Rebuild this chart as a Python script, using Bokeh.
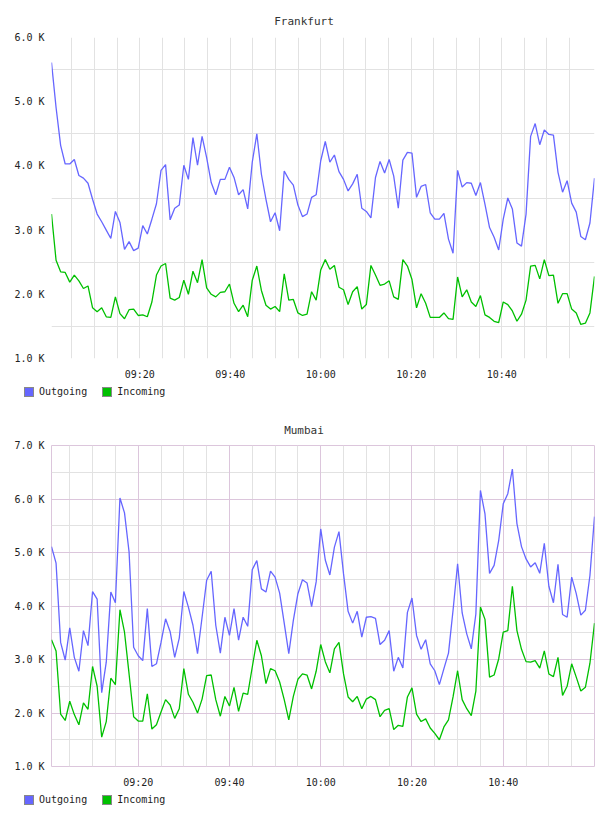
import numpy as np
import pandas as pd
from bokeh.plotting import figure
from bokeh.models import Range1d, FixedTicker, Grid, DatetimeTickFormatter, Div
from bokeh.layouts import column
from bokeh.embed import file_html
from bokeh.resources import INLINE

# ---------------- data (values in thousands) ----------------
fra_out = [5.61, 4.91, 4.32, 4.03, 4.03, 4.10, 3.85, 3.81, 3.73, 3.48, 3.25, 3.13, 3.00, 2.87, 3.29, 3.12, 2.70, 2.82, 2.68, 2.72,
           3.07, 2.94, 3.17, 3.41, 3.93, 4.02, 3.16, 3.34, 3.39, 4.01, 3.79, 4.44, 4.01, 4.46, 4.13, 3.74, 3.55, 3.79, 3.79, 3.98,
           3.82, 3.55, 3.63, 3.33, 4.06, 4.50, 3.87, 3.48, 3.13, 3.27, 2.99, 3.92, 3.79, 3.70, 3.39, 3.21, 3.25, 3.51, 3.55, 4.08,
           4.38, 4.06, 4.17, 3.91, 3.79, 3.61, 3.72, 3.87, 3.34, 3.29, 3.19, 3.82, 4.07, 3.89, 4.10, 3.84, 3.34, 4.09, 4.21, 4.20,
           3.51, 3.68, 3.71, 3.27, 3.17, 3.17, 3.26, 2.86, 2.64, 3.93, 3.67, 3.74, 3.73, 3.54, 3.74, 3.40, 3.04, 2.89, 2.69, 3.17,
           3.50, 3.33, 2.80, 2.75, 3.25, 4.46, 4.66, 4.33, 4.56, 4.49, 4.48, 3.90, 3.59, 3.77, 3.42, 3.28, 2.90, 2.85, 3.11, 3.81]
fra_in = [3.25, 2.53, 2.35, 2.34, 2.19, 2.30, 2.21, 2.09, 2.13, 1.79, 1.73, 1.79, 1.65, 1.64, 1.96, 1.70, 1.62, 1.76, 1.77, 1.67,
          1.68, 1.65, 1.88, 2.30, 2.44, 2.48, 1.94, 1.91, 1.95, 2.22, 2.00, 2.36, 2.18, 2.54, 2.10, 2.00, 1.96, 2.03, 2.04, 2.16,
          1.86, 1.73, 1.83, 1.65, 2.22, 2.44, 2.06, 1.83, 1.77, 1.81, 1.73, 2.32, 1.91, 1.92, 1.71, 1.67, 1.69, 2.04, 1.91, 2.38,
          2.54, 2.39, 2.45, 2.11, 2.07, 1.84, 2.04, 2.12, 1.77, 1.84, 2.45, 2.30, 2.14, 2.16, 2.21, 1.96, 1.92, 2.54, 2.44, 2.23,
          1.79, 2.01, 1.86, 1.64, 1.64, 1.64, 1.71, 1.62, 1.61, 2.27, 1.96, 2.07, 1.88, 1.81, 1.98, 1.68, 1.64, 1.58, 1.56, 1.88,
          1.84, 1.74, 1.58, 1.69, 1.91, 2.44, 2.45, 2.24, 2.54, 2.29, 2.30, 1.86, 2.01, 2.01, 1.77, 1.71, 1.53, 1.55, 1.71, 2.28]
mum_out = [5.11, 4.80, 3.32, 2.99, 3.59, 3.04, 2.78, 3.54, 3.26, 4.27, 4.13, 2.38, 2.95, 4.26, 4.06, 6.02, 5.74, 5.01, 3.23, 3.07,
           2.98, 3.95, 2.87, 2.92, 3.32, 3.76, 3.52, 3.04, 3.40, 4.27, 3.98, 3.64, 3.11, 3.79, 4.48, 4.65, 3.64, 3.12, 3.79, 3.45,
           3.95, 3.36, 3.79, 3.62, 4.68, 4.85, 4.32, 4.26, 4.65, 4.54, 4.24, 3.68, 3.11, 3.73, 4.23, 4.49, 4.43, 3.99, 4.45, 5.44,
           4.86, 4.58, 5.10, 5.39, 4.60, 3.90, 3.68, 3.90, 3.42, 3.79, 3.80, 3.77, 3.28, 3.36, 3.54, 2.78, 3.04, 2.84, 3.88, 4.15,
           3.45, 3.19, 3.37, 2.92, 2.79, 2.53, 2.83, 3.12, 3.92, 4.79, 3.87, 3.48, 3.20, 3.85, 6.16, 5.72, 4.61, 4.76, 5.22, 5.91,
           6.10, 6.56, 5.54, 5.11, 4.88, 4.73, 4.81, 4.61, 5.17, 4.37, 4.06, 4.78, 3.84, 3.79, 4.54, 4.23, 3.83, 3.92, 4.57, 5.67]
mum_in = [3.37, 3.16, 1.98, 1.86, 2.22, 1.97, 1.78, 2.19, 2.07, 2.87, 2.50, 1.55, 1.84, 2.65, 2.53, 3.93, 3.51, 2.73, 1.93, 1.85,
          1.85, 2.36, 1.70, 1.78, 2.02, 2.25, 2.15, 1.90, 2.08, 2.83, 2.35, 2.20, 2.00, 2.26, 2.70, 2.71, 2.25, 1.94, 2.31, 2.13,
          2.48, 2.03, 2.37, 2.35, 2.86, 3.36, 3.07, 2.55, 2.83, 2.79, 2.58, 2.25, 1.87, 2.31, 2.63, 2.73, 2.71, 2.45, 2.78, 3.28,
          2.96, 2.75, 3.20, 3.32, 2.73, 2.30, 2.21, 2.31, 2.08, 2.26, 2.31, 2.25, 1.93, 2.05, 2.08, 1.69, 1.77, 1.75, 2.30, 2.47,
          1.98, 1.84, 1.89, 1.72, 1.62, 1.50, 1.74, 1.87, 2.30, 2.79, 2.25, 2.08, 1.95, 2.41, 3.98, 3.75, 2.67, 2.71, 3.01, 3.51,
          3.54, 4.37, 3.54, 3.19, 2.96, 2.95, 2.98, 2.84, 3.16, 2.73, 2.68, 3.04, 2.33, 2.50, 2.92, 2.67, 2.41, 2.48, 2.93, 3.68]

fra_times = pd.date_range("2024-01-01 09:00:30", "2024-01-01 11:00:30", periods=len(fra_out))
mum_times = pd.date_range("2024-01-01 09:01:00", periods=len(mum_out), freq="1min")

titles = ["Frankfurt", "Mumbai"]
x_tick_times = ["09:20", "09:40", "10:00", "10:20", "10:40"]
fra_y_ticks = [1000, 2000, 3000, 4000, 5000, 6000]
fra_y_labels = ["1.0 K", "2.0 K", "3.0 K", "4.0 K", "5.0 K", "6.0 K"]
mum_y_ticks = [1000, 2000, 3000, 4000, 5000, 6000, 7000]
mum_y_labels = ["1.0 K", "2.0 K", "3.0 K", "4.0 K", "5.0 K", "6.0 K", "7.0 K"]
series_names = ["Outgoing", "Incoming"]

FONT = "DejaVu Sans Mono"
BLUE = "#6666ff"
GREEN = "#00c000"
GRAY = "#e2e2e2"
PINK = "#dcc6dc"
series_colors = [BLUE, GREEN]


def ms(hm):
    return float(pd.Timestamp("2024-01-01 " + hm).value // 10**6)


five_min = [f"{h:02d}:{m:02d}" for h in (9, 10) for m in range(0, 60, 5)]
five_min = [t for t in five_min if "09:00" < t < "11:00"]


def title_div(text, pad):
    html = (f'<div style="width:608px;padding-top:{pad}px;text-align:center;'
            f'font-family:\'{FONT}\';font-size:11px;line-height:12px;color:#333333;">{text}</div>')
    return Div(text=html, width=608, height=30, margin=0)


def legend_div():
    parts = []
    for i, (name, col) in enumerate(zip(series_names, series_colors)):
        ml = 24 if i == 0 else 15
        parts.append(f'<span style="display:inline-block;width:10px;height:10px;background:{col};'
                     f'border:1px solid #888888;margin-left:{ml}px;"></span>'
                     f'<span style="display:inline-block;margin-left:5px;line-height:10px;">{name}</span>')
    html = (f'<div style="width:608px;padding-top:4px;display:flex;align-items:center;'
            f'font-family:\'{FONT}\';font-size:10px;line-height:10px;color:#222222;">'
            + "".join(parts) + '</div>')
    return Div(text=html, width=608, height=25, margin=0)


def make(times, out, inc, y_ticks, y_labels, styled):
    p = figure(width=608, height=353, x_axis_type="datetime", output_backend="svg",
               toolbar_location=None,
               x_range=Range1d(times[0], times[-1]), y_range=Range1d(y_ticks[0], y_ticks[-1]),
               min_border_left=51, min_border_right=14, min_border_top=7, min_border_bottom=25)
    p.grid.visible = False
    p.background_fill_color = "white"
    p.border_fill_color = "white"

    half = [v + 500 for v in y_ticks[:-1]]
    if styled:
        minor_x = [ms(t) for t in five_min if t not in x_tick_times]
        p.add_layout(Grid(dimension=0, ticker=FixedTicker(ticks=minor_x), grid_line_color=GRAY))
        p.add_layout(Grid(dimension=1, ticker=FixedTicker(ticks=half), grid_line_color=GRAY))
        p.add_layout(Grid(dimension=0, ticker=FixedTicker(ticks=[ms(t) for t in x_tick_times]),
                          grid_line_color=PINK))
        p.add_layout(Grid(dimension=1, ticker=FixedTicker(ticks=y_ticks[1:-1]), grid_line_color=PINK))
        p.outline_line_color = PINK
        p.outline_line_width = 1
    else:
        p.add_layout(Grid(dimension=0, ticker=FixedTicker(ticks=[ms(t) for t in five_min]),
                          grid_line_color=GRAY))
        p.add_layout(Grid(dimension=1, ticker=FixedTicker(ticks=half), grid_line_color=GRAY))
        p.outline_line_color = None

    p.line(times, np.array(out) * 1000, line_color=BLUE, line_width=1.3)
    p.line(times, np.array(inc) * 1000, line_color=GREEN, line_width=1.3)

    p.yaxis.ticker = FixedTicker(ticks=y_ticks)
    p.yaxis.major_label_overrides = dict(zip(y_ticks, y_labels))
    p.xaxis.ticker = FixedTicker(ticks=[ms(t) for t in x_tick_times])
    p.xaxis.formatter = DatetimeTickFormatter(minutes="%H:%M", hourmin="%H:%M", hours="%H:%M",
                                              minsec="%H:%M", seconds="%H:%M",
                                              strip_leading_zeros=False)
    for ax in p.axis:
        ax.axis_line_color = None
        ax.major_tick_line_color = None
        ax.minor_tick_line_color = None
        ax.major_tick_out = 0
        ax.major_tick_in = 0
        ax.minor_tick_out = 0
        ax.minor_tick_in = 0
        ax.major_label_text_font = FONT
        ax.major_label_text_font_size = "10px"
        ax.major_label_text_color = "#222222"
    p.yaxis.major_label_standoff = 7
    p.xaxis.major_label_standoff = 10
    return p


p1 = make(fra_times, fra_out, fra_in, fra_y_ticks, fra_y_labels, False)
p2 = make(mum_times, mum_out, mum_in, mum_y_ticks, mum_y_labels, True)

layout = column(title_div(titles[0], 16), p1, legend_div(),
                title_div(titles[1], 17), p2, legend_div(), spacing=0)
open("out.html", "w").write(file_html(layout, INLINE))
